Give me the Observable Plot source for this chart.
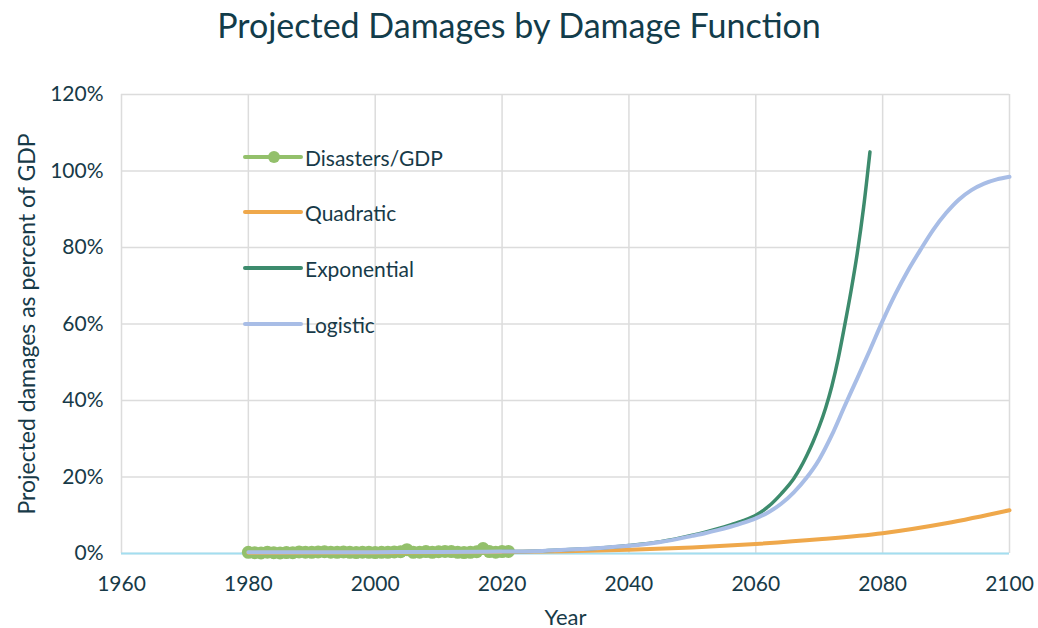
<!DOCTYPE html>
<html>
<head>
<meta charset="utf-8">
<script src="https://cdn.jsdelivr.net/npm/d3@7"></script>
<script src="https://cdn.jsdelivr.net/npm/@observablehq/plot@0.6"></script>
<style>
  html, body { margin: 0; padding: 0; background: #fff; }
  body { width: 1038px; height: 628px; position: relative; overflow: hidden; font-family: Lato, "Noto Sans", sans-serif; color: #173a48; }
  #title { position: absolute; left: 0; top: 0; width: 1038px; height: 70px; text-align: center; font-size: 34px; line-height: 50px; color: #123c4a; }
  #chart { position: absolute; left: 0; top: 70px; }
  #legend { position: absolute; left: 243px; top: 0; }
  .lg { position: absolute; left: 0; height: 24px; display: flex; align-items: center; white-space: nowrap; font-size: 21px; color: #173a48; }
  .lg svg { margin-right: 2px; }
</style>
</head>
<body>
<div id="title">Projected Damages by Damage Function</div>
<div id="chart"></div>
<div id="legend"></div>
<script>
// ---- data ----
const seriesNames = ["Disasters/GDP", "Quadratic", "Exponential", "Logistic"];
const seriesColors = ["#93c06b", "#efa84b", "#3d8b6d", "#a8bde6"];

const disasterYears = [1980,1981,1982,1983,1984,1985,1986,1987,1988,1989,1990,1991,1992,1993,1994,1995,1996,1997,1998,1999,2000,2001,2002,2003,2004,2005,2006,2007,2008,2009,2010,2011,2012,2013,2014,2015,2016,2017,2018,2019,2020,2021];
const disasterValues = [0.3,0.2,0.15,0.35,0.2,0.15,0.25,0.2,0.4,0.35,0.3,0.4,0.45,0.35,0.3,0.4,0.3,0.25,0.35,0.3,0.25,0.3,0.3,0.4,0.45,1.0,0.3,0.35,0.5,0.3,0.45,0.55,0.5,0.3,0.25,0.3,0.45,1.3,0.5,0.35,0.5,0.55];

const quadYears = [1980,2000,2020,2030,2040,2050,2060,2070,2080,2090,2100];
const quadValues = [0.2,0.25,0.4,0.6,1.0,1.6,2.5,3.7,5.3,7.9,11.3];

const expYears = [2020,2025,2030,2035,2040,2045,2050,2052,2054,2056,2058,2060,2062,2064,2066,2067,2068,2069,2070,2071,2072,2073,2074,2075,2076,2077,2078];
const expValues = [0.5,0.6,1.0,1.4,2.1,3.1,4.8,5.6,6.5,7.5,8.6,10.0,12.3,15.6,19.6,22.3,25.5,29.1,33.2,38.0,43.8,51.0,59.5,68.5,78.5,90.5,105];

const logYears = [1980,1990,2000,2010,2020,2025,2030,2035,2040,2045,2050,2052,2054,2056,2058,2060,2062,2064,2066,2068,2070,2072,2074,2076,2078,2080,2082,2084,2086,2088,2090,2092,2094,2096,2098,2100];
const logValues = [0.3,0.3,0.35,0.4,0.5,0.6,1.0,1.4,2.0,3.0,4.6,5.3,6.1,7.0,8.0,9.2,10.8,13.0,16.0,19.8,24.6,31.0,38.5,45.8,53.2,60.8,67.8,74.0,79.5,84.7,89.0,92.5,95.0,96.7,97.8,98.5];

const xTicks = [1960,1980,2000,2020,2040,2060,2080,2100];
const yTicks = [0,20,40,60,80,100,120];

const toRows = (ys, vs) => ys.map((y, i) => ({year: y, value: vs[i]}));
const disasters = toRows(disasterYears, disasterValues);
const quad = toRows(quadYears, quadValues);
const expo = toRows(expYears, expValues);
const logi = toRows(logYears, logValues);

const textColor = "#173a48";
const gridColor = "#dcdcdc";

const chart = Plot.plot({
  width: 1038,
  height: 558,
  marginTop: 24,
  marginBottom: 75,
  marginLeft: 121,
  marginRight: 29,
  style: { fontFamily: "Lato, 'Noto Sans', sans-serif", fontSize: "21px", color: textColor, background: "transparent" },
  x: { domain: [1960, 2100], label: null },
  y: { domain: [0, 120], label: null },
  marks: [
    Plot.gridX(xTicks, { stroke: gridColor, strokeOpacity: 1, strokeWidth: 1.5 }),
    Plot.gridY(yTicks, { stroke: gridColor, strokeOpacity: 1, strokeWidth: 1.5 }),
    Plot.ruleY([0], { stroke: "#a3def0", strokeWidth: 2 }),
    Plot.line(disasters, { x: "year", y: "value", stroke: seriesColors[0], strokeWidth: 3 }),
    Plot.dot(disasters, { x: "year", y: "value", r: 6.5, fill: seriesColors[0], stroke: "none" }),
    Plot.line(quad, { x: "year", y: "value", stroke: seriesColors[1], strokeWidth: 4, curve: "monotone-x" }),
    Plot.line(expo, { x: "year", y: "value", stroke: seriesColors[2], strokeWidth: 3.5, curve: "monotone-x" }),
    Plot.line(logi, { x: "year", y: "value", stroke: seriesColors[3], strokeWidth: 4, curve: "monotone-x" }),
    Plot.axisX({ ticks: xTicks, tickFormat: d => String(d), tickSize: 0, tickPadding: 23, fontSize: 21, label: null }),
    Plot.axisY({ ticks: yTicks, tickFormat: d => d + "%", tickSize: 0, tickPadding: 18, fontSize: 21, label: null }),
    Plot.text(["Year"], { frameAnchor: "bottom", dy: 71, fontSize: 22, fill: textColor }),
    Plot.text(["Projected damages as percent of GDP"], { frameAnchor: "left", textAnchor: "middle", dx: -94, rotate: -90, fontSize: 23, fill: textColor })
  ]
});
document.getElementById("chart").appendChild(chart);

// legend overlay inside the plot area
const legend = document.getElementById("legend");
const legendTops = [145, 200, 256, 312];
seriesNames.forEach((name, i) => {
  const row = document.createElement("div");
  row.className = "lg";
  row.style.top = legendTops[i] + "px";
  const marker = i === 0 ? `<circle cx="31" cy="12" r="6" fill="${seriesColors[i]}"/>` : "";
  row.innerHTML = `<svg width="60" height="24"><line x1="2" x2="58" y1="12" y2="12" stroke="${seriesColors[i]}" stroke-width="4" stroke-linecap="round"/>${marker}</svg><span>${name}</span>`;
  legend.appendChild(row);
});
</script>
</body>
</html>
